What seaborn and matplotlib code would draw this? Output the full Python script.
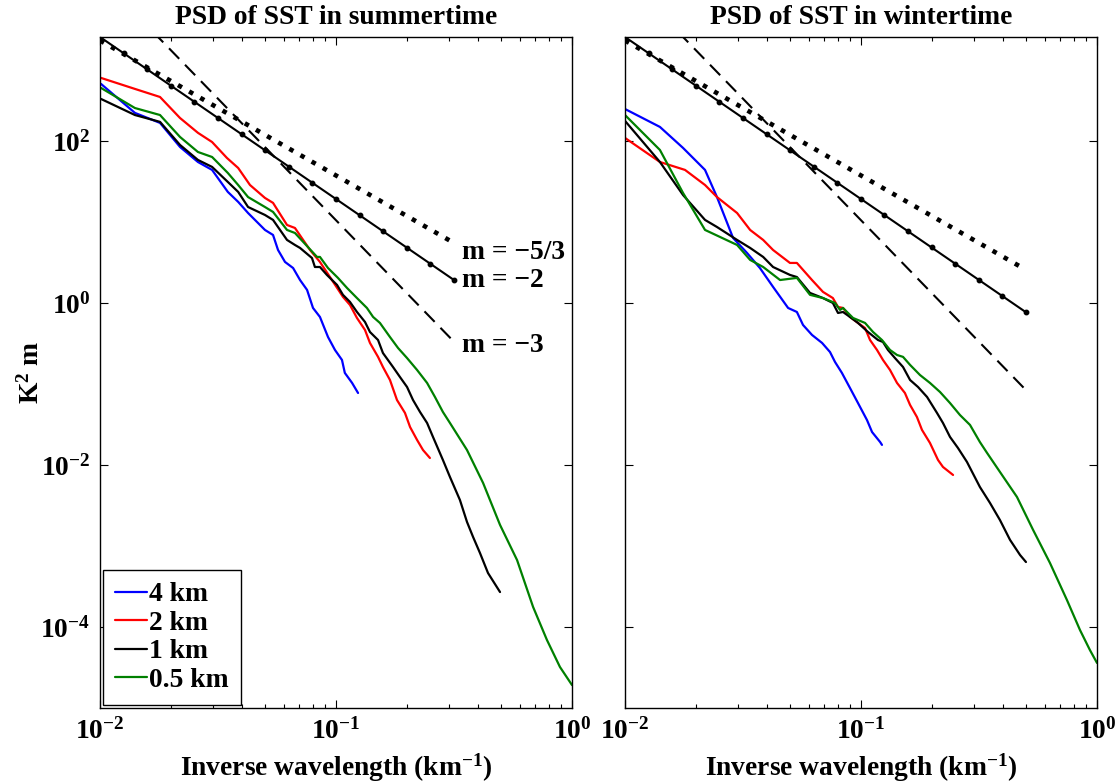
import numpy as np
import pandas as pd
import matplotlib
matplotlib.use("Agg")
import matplotlib.pyplot as plt
from matplotlib.lines import Line2D
import seaborn as sns

# ---------------- data ----------------
labels = ["4 km", "2 km", "1 km", "0.5 km"]
colors = ["#0000ff", "#ff0000", "#000000", "#008000"]

# Summer
s_blue_k = [0.0101, 0.01406, 0.01796, 0.02183, 0.0260, 0.02985, 0.0348, 0.0385, 0.0424, 0.0500, 0.0541,
            0.0568, 0.0608, 0.0658, 0.0704, 0.0754, 0.0799, 0.0855, 0.0925, 0.0990, 0.106, 0.109, 0.117, 0.124]
s_blue_p = [506, 222, 167, 84.3, 55.0, 43.9, 23.5, 17.7, 12.9, 7.97, 6.91,
            4.51, 3.21, 2.70, 1.92, 1.45, 0.868, 0.672, 0.380, 0.263, 0.198, 0.137, 0.103, 0.0774]

s_red_k = [0.0101, 0.01406, 0.01796, 0.02183, 0.0260, 0.02985, 0.0345, 0.0385, 0.0432, 0.0500, 0.0541,
           0.0620, 0.0670, 0.0776, 0.0855, 0.0943, 0.107, 0.1146, 0.1227, 0.1327, 0.1393, 0.1507, 0.1581,
           0.1693, 0.1813, 0.1960, 0.206, 0.2205, 0.2337, 0.250]
s_red_p = [600, 439, 349, 192, 126, 97, 61.7, 46.4, 28.6, 19.8, 17.2,
           9.18, 8.43, 4.51, 3.21, 2.09, 1.19, 0.945, 0.653, 0.464, 0.321, 0.216, 0.162,
           0.112, 0.0634, 0.0439, 0.0294, 0.0204, 0.0153, 0.0122]

s_black_k = [0.0101, 0.01406, 0.01796, 0.02183, 0.0260, 0.02985, 0.0348, 0.0385, 0.0424, 0.0500, 0.0541,
             0.0620, 0.0670, 0.0704, 0.0791, 0.0814, 0.0855, 0.0915, 0.1010, 0.107, 0.1146, 0.1227, 0.1327,
             0.1393, 0.1507, 0.1581, 0.1744, 0.1866, 0.200, 0.2120, 0.2270, 0.2432, 0.2576, 0.2838, 0.304,
             0.335, 0.359, 0.381, 0.4074, 0.4406, 0.4955]
s_black_p = [330, 209, 172, 89.3, 58.3, 47.8, 31.2, 23.5, 15.3, 12.2, 10.6,
             6.0, 5.2, 4.78, 3.59, 2.78, 2.78, 2.22, 1.67, 1.26, 1.03, 0.774, 0.583,
             0.438, 0.349, 0.241, 0.162, 0.122, 0.0918, 0.0634, 0.0451, 0.0330, 0.0222, 0.01153, 0.00711,
             0.00370, 0.00198, 0.00129, 0.00082, 0.000464, 0.000270]

s_green_k = [0.0101, 0.01406, 0.01796, 0.02183, 0.0260, 0.02985, 0.0348, 0.0385, 0.0424, 0.0500, 0.0541,
             0.0620, 0.0670, 0.0760, 0.0831, 0.0855, 0.0925, 0.1019, 0.1114, 0.1227, 0.1352, 0.1436, 0.1535,
             0.1693, 0.1832, 0.200, 0.2205, 0.2432, 0.2626, 0.2838, 0.304, 0.359, 0.420, 0.4955, 0.585,
             0.684, 0.783, 0.889, 1.0]
s_green_p = [451, 255, 209, 112, 73.1, 63.4, 40.3, 28.6, 20.3, 15.3, 13.3,
             7.97, 7.31, 4.91, 3.70, 3.70, 2.70, 2.04, 1.53, 1.15, 0.868, 0.672, 0.567,
             0.380, 0.278, 0.209, 0.149, 0.103, 0.0691, 0.0451, 0.0330, 0.0153, 0.0060, 0.00182, 0.000671,
             0.000177, 6.92e-5, 3.21e-5, 1.92e-5]

# Winter
w_blue_k = [0.0100, 0.01406, 0.01762, 0.02183, 0.02453, 0.0287, 0.0329, 0.0373, 0.0424, 0.0491, 0.0535,
            0.0568, 0.0620, 0.0684, 0.0739, 0.0776, 0.0830, 0.0898, 0.0971, 0.106, 0.1114, 0.1205, 0.1227]
w_blue_p = [248, 149, 82, 43.9, 20.3, 6.35, 4.14, 2.70, 1.58, 0.868, 0.774,
            0.535, 0.403, 0.321, 0.248, 0.187, 0.137, 0.0893, 0.0582, 0.0359, 0.0255, 0.0192, 0.0177]

w_red_k = [0.0100, 0.01406, 0.01796, 0.02183, 0.02453, 0.02985, 0.0339, 0.0385, 0.0424, 0.0500, 0.0535,
           0.0620, 0.0690, 0.0760, 0.0799, 0.0839, 0.0898, 0.0971, 0.1040, 0.1092, 0.1169, 0.1239, 0.1327,
           0.1421, 0.1535, 0.1614, 0.1726, 0.1813, 0.1960, 0.2120, 0.2225, 0.2455]
w_red_p = [109, 55.0, 43.9, 28.6, 20.3, 12.9, 7.97, 6.0, 4.51, 3.12, 3.12,
           1.92, 1.37, 1.15, 0.892, 0.868, 0.672, 0.567, 0.491, 0.349, 0.263, 0.198, 0.149,
           0.103, 0.0774, 0.0551, 0.0391, 0.0271, 0.0187, 0.01153, 0.00945, 0.00753]

w_black_k = [0.0100, 0.01406, 0.01762, 0.02183, 0.02453, 0.02985, 0.0339, 0.0385, 0.0424, 0.0500, 0.0535,
             0.0608, 0.0690, 0.0760, 0.0799, 0.0839, 0.0898, 0.0971, 0.1071, 0.1180, 0.1239, 0.1301, 0.1393,
             0.1507, 0.1614, 0.1744, 0.1905, 0.2099, 0.2225, 0.2383, 0.2576, 0.2812, 0.319, 0.352, 0.388,
             0.428, 0.472, 0.500]
w_black_p = [177, 55.0, 21.5, 10.6, 8.67, 6.0, 4.78, 3.70, 2.78, 2.22, 2.09,
             1.33, 1.15, 1.0, 0.753, 0.774, 0.672, 0.567, 0.438, 0.349, 0.330, 0.263, 0.209,
             0.162, 0.112, 0.0918, 0.0691, 0.0439, 0.0330, 0.0222, 0.0162, 0.0109, 0.00535, 0.00340, 0.00209,
             0.00119, 0.000774, 0.000634]

w_green_k = [0.0100, 0.01406, 0.01762, 0.02183, 0.02527, 0.02985, 0.0339, 0.0385, 0.0454, 0.0535, 0.0608,
             0.0690, 0.0776, 0.0815, 0.0839, 0.0925, 0.1040, 0.1125, 0.1227, 0.1327, 0.1421, 0.1507, 0.1614,
             0.1778, 0.1960, 0.2162, 0.2383, 0.2626, 0.2897, 0.319, 0.342, 0.388, 0.458, 0.536, 0.632,
             0.746, 0.847, 0.933, 1.0]
w_green_p = [209, 77.4, 22.8, 7.97, 6.53, 5.20, 3.40, 2.78, 1.92, 2.04, 1.26,
             1.15, 1.0, 0.820, 0.868, 0.653, 0.567, 0.438, 0.349, 0.263, 0.228, 0.216, 0.172,
             0.129, 0.103, 0.0796, 0.0582, 0.0414, 0.0312, 0.0192, 0.0141, 0.00820, 0.00403, 0.00158, 0.000617,
             0.000215, 9.18e-5, 5.2e-5, 3.6e-5]

# reference power-law slopes
ref_slopes = [-5 / 3, -2, -3]
ref_amp_at_001 = [1740, 1920, 10500]      # value at k = 0.01 km^-1
ref_text = ["m = \u22125/3", "m = \u22122", "m = \u22123"]
ref_text_y = [4.2, 1.87, 0.30]
ref_kmax = {"summer": 0.316, "winter": 0.5}

titles = ["PSD of SST in summertime", "PSD of SST in wintertime"]
xticks = [1e-2, 1e-1, 1e0]
xtick_labels = [r"$\mathbf{10^{-2}}$", r"$\mathbf{10^{-1}}$", r"$\mathbf{10^{0}}$"]
yticks = [1e-4, 1e-2, 1e0, 1e2]
ytick_labels = [r"$\mathbf{10^{-4}}$", r"$\mathbf{10^{-2}}$", r"$\mathbf{10^{0}}$", r"$\mathbf{10^{2}}$"]

# ---------------- style ----------------
sns.set_theme(style="ticks")
plt.rcParams.update({
    "font.family": ["Liberation Serif", "DejaVu Serif"],
    "font.weight": "bold",
    "mathtext.fontset": "custom",
    "mathtext.rm": "Liberation Serif:bold",
    "mathtext.it": "Liberation Serif:bold",
    "mathtext.bf": "Liberation Serif:bold",
    "mathtext.sf": "Liberation Serif:bold",
    "axes.linewidth": 1.0,
    "axes.edgecolor": "black",
    "text.color": "black",
    "axes.labelcolor": "black",
    "xtick.color": "black",
    "ytick.color": "black",
    "axes.titlecolor": "black",
})
FS = 19.8

fig = plt.figure(figsize=(11.2, 7.83), dpi=100)
axL = fig.add_axes([100 / 1120, 75 / 783, 472 / 1120, 671 / 783])
axR = fig.add_axes([625 / 1120, 75 / 783, 472 / 1120, 671 / 783])

def make_df(ks, ps):
    frames = []
    for lab, k, p in zip(labels, ks, ps):
        frames.append(pd.DataFrame({"k": k, "psd": p, "res": lab}))
    return pd.concat(frames, ignore_index=True)

df_s = make_df([s_blue_k, s_red_k, s_black_k, s_green_k], [s_blue_p, s_red_p, s_black_p, s_green_p])
df_w = make_df([w_blue_k, w_red_k, w_black_k, w_green_k], [w_blue_p, w_red_p, w_black_p, w_green_p])

for ax, df, season, title in [(axL, df_s, "summer", titles[0]), (axR, df_w, "winter", titles[1])]:
    ax.set_xscale("log")
    ax.set_yscale("log")
    # reference lines
    kref = np.logspace(-2, np.log10(ref_kmax[season]), int(round((np.log10(ref_kmax[season]) + 2) / 0.1)) + 1)
    y53 = ref_amp_at_001[0] * (kref / 0.01) ** ref_slopes[0]
    y2 = ref_amp_at_001[1] * (kref / 0.01) ** ref_slopes[1]
    y3 = ref_amp_at_001[2] * (kref / 0.01) ** ref_slopes[2]
    ax.plot(kref, y53, color="black", lw=3.3, linestyle=(0, (1, 1.8)), solid_capstyle="butt",
            dash_capstyle="butt")
    ax.plot(kref, y3, color="black", lw=1.5, linestyle=(0, (7, 4)))
    ax.plot(kref, y2, color="black", lw=1.5, marker="o", markersize=3.2)

    sns.lineplot(data=df, x="k", y="psd", hue="res", hue_order=labels, palette=colors,
                 estimator=None, sort=False, lw=1.6, ax=ax, legend=False)

    ax.set_xlim(1e-2, 1e0)
    ax.set_ylim(1e-5, 1.92e3)
    ax.set_xticks(xticks)
    ax.set_xticklabels(xtick_labels)
    ax.xaxis.set_minor_locator(matplotlib.ticker.LogLocator(base=10, subs=np.arange(2, 10), numticks=20))
    ax.xaxis.set_minor_formatter(matplotlib.ticker.NullFormatter())
    ax.set_yticks(yticks)
    ax.yaxis.set_minor_locator(matplotlib.ticker.NullLocator())
    ax.tick_params(which="both", direction="in", top=True, right=True, colors="black",
                   labelsize=FS, pad=7)
    ax.tick_params(which="major", length=6, width=0.8)
    ax.tick_params(which="minor", length=3, width=0.8)
    for sp in ax.spines.values():
        sp.set_visible(True)
        sp.set_color("black")
    ax.set_title(title, fontsize=FS, fontweight="bold", pad=9, color="black")
    ax.set_xlabel(r"Inverse wavelength (km$^{-1}$)", fontsize=FS, fontweight="bold", labelpad=5)

axL.set_yticklabels(ytick_labels)
axR.set_yticklabels([])
axR.set_ylabel("")
axL.set_ylabel(r"K$^{2}$ m", fontsize=FS, fontweight="bold", labelpad=-3)

for txt, ty in zip(ref_text, ref_text_y):
    axL.text(0.342, ty, txt, fontsize=FS, fontweight="bold", va="center", ha="left", color="black")

handles = [Line2D([0], [0], color=c, lw=1.6) for c in colors]
leg = axL.legend(handles, labels, loc="lower left", prop={"size": FS, "weight": "bold"},
                 frameon=True, fancybox=False, edgecolor="black", framealpha=1,
                 borderaxespad=0.1, borderpad=0.45, handlelength=1.15, handletextpad=0.08,
                 labelspacing=0.12)
leg.get_frame().set_linewidth(1.0)
for t in leg.get_texts():
    t.set_color("black")

fig.savefig("out.png", dpi=100)
